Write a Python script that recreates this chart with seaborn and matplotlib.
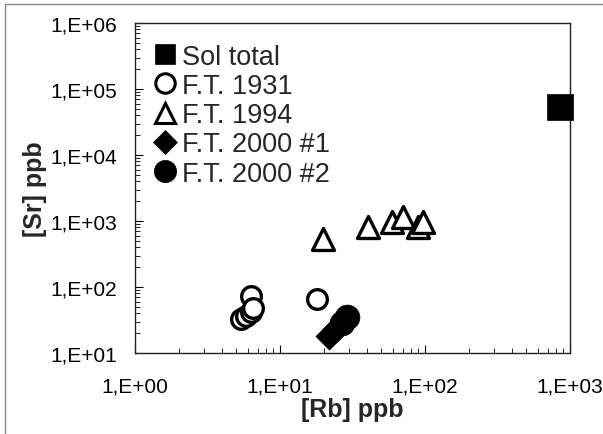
import numpy as np
import pandas as pd
import matplotlib
matplotlib.use("Agg")
import matplotlib.pyplot as plt
import matplotlib.ticker as mticker
from matplotlib.lines import Line2D
import seaborn as sns

sns.set_theme(style="white")
plt.rcParams['font.family'] = ['Liberation Sans', 'DejaVu Sans']

# ---- data ----
sol_rb = [855]
sol_sr = [53000]

ft1931_rb = [6.3, 5.35, 5.8, 6.3, 6.5, 17.9]
ft1931_sr = [74, 32.7, 36.7, 42.3, 47.5, 65.8]

ft1994_rb = [19.9, 40.6, 58.9, 70.8, 89.9, 97.3]
ft1994_sr = [534, 803, 955, 1137, 803, 955]

ft2000a_rb = [21.8, 24.3]
ft2000a_sr = [18.1, 23.1]

ft2000b_rb = [26.8, 29.0]
ft2000b_sr = [28.5, 35.1]

series_names = ["Sol total", "F.T. 1931", "F.T. 1994", "F.T. 2000 #1", "F.T. 2000 #2"]
x_ticks = [1, 10, 100, 1000]
y_ticks = [1e1, 1e2, 1e3, 1e4, 1e5, 1e6]

frames = []
for name, xs, ys in zip(series_names,
                        [sol_rb, ft1931_rb, ft1994_rb, ft2000a_rb, ft2000b_rb],
                        [sol_sr, ft1931_sr, ft1994_sr, ft2000a_sr, ft2000b_sr]):
    frames.append(pd.DataFrame({"Rb": xs, "Sr": ys, "group": name}))
df = pd.concat(frames, ignore_index=True)

styles = {
    "Sol total":    dict(marker="s", s=340, facecolor="black", edgecolor="black", linewidth=0.5),
    "F.T. 1931":    dict(marker="o", s=200, facecolor="white", edgecolor="black", linewidth=2.4),
    "F.T. 1994":    dict(marker="^", s=250, facecolor="white", edgecolor="black", linewidth=2.4),
    "F.T. 2000 #1": dict(marker="D", s=190, facecolor="black", edgecolor="black", linewidth=0.5),
    "F.T. 2000 #2": dict(marker="o", s=320, facecolor="black", edgecolor="black", linewidth=0.5),
}

fig = plt.figure(figsize=(6.03, 4.35), dpi=100)
ax = fig.add_axes([0.2239, 0.1862, 0.7214, 0.7586])

for name in series_names:
    st = styles[name]
    sub = df[df["group"] == name]
    sns.scatterplot(data=sub, x="Rb", y="Sr", ax=ax, marker=st["marker"], s=st["s"],
                    color=st["facecolor"], edgecolor=st["edgecolor"],
                    linewidth=st["linewidth"], legend=False, zorder=3, clip_on=False)

ax.set_xscale("log")
ax.set_yscale("log")
ax.set_xlim(1, 1000)
ax.set_ylim(10, 1e6)

fmt = mticker.FuncFormatter(lambda v, p: "1,E+%02d" % int(round(np.log10(v))))
ax.xaxis.set_major_locator(mticker.FixedLocator(x_ticks))
ax.yaxis.set_major_locator(mticker.FixedLocator(y_ticks))
ax.xaxis.set_major_formatter(fmt)
ax.yaxis.set_major_formatter(fmt)
ax.xaxis.set_minor_locator(mticker.LogLocator(base=10, subs=np.arange(2, 10), numticks=20))
ax.yaxis.set_minor_locator(mticker.LogLocator(base=10, subs=np.arange(2, 10), numticks=20))
ax.xaxis.set_minor_formatter(mticker.NullFormatter())
ax.yaxis.set_minor_formatter(mticker.NullFormatter())

ax.tick_params(axis="both", which="major", direction="in", length=6, width=0.8,
               color="black", labelsize=15, labelcolor="black", bottom=True, left=True,
               top=False, right=False)
ax.tick_params(axis="both", which="minor", direction="in", length=3.5, width=0.6,
               color="black", bottom=True, left=True, top=False, right=False)
ax.tick_params(axis="x", which="major", pad=17)
ax.tick_params(axis="y", which="major", pad=13)

for sp in ax.spines.values():
    sp.set_color("#222222")
    sp.set_linewidth(1.0)
    sp.set_visible(True)

ax.set_xlabel("[Rb] ppb", fontsize=18, fontweight="bold", labelpad=1)
ax.set_ylabel("[Sr] ppb", fontsize=18, fontweight="bold", labelpad=2)

handles = []
for name in series_names:
    st = styles[name]
    ms = {"s": 15, "o": 14, "^": 14, "D": 12}[st["marker"]]
    if name == "F.T. 2000 #2":
        ms = 16
    handles.append(Line2D([], [], linestyle="none", marker=st["marker"], markersize=ms,
                          markerfacecolor=st["facecolor"], markeredgecolor="black",
                          markeredgewidth=2.2 if st["facecolor"] == "white" else 0.5,
                          label=name))
leg = ax.legend(handles=handles, loc="upper left", bbox_to_anchor=(-0.016, 0.995),
                frameon=False, fontsize=19.5, handletextpad=0.0, handlelength=1.3,
                labelspacing=0.12, borderaxespad=0.3)

# thin outer frame (top and left) as in the scanned figure
fig.add_artist(Line2D([0.008, 0.998], [0.989, 0.989], color="#888888", linewidth=1.0,
                      transform=fig.transFigure))
fig.add_artist(Line2D([0.008, 0.008], [0.0, 0.989], color="#888888", linewidth=1.0,
                      transform=fig.transFigure))

fig.savefig("out.png", dpi=100)
